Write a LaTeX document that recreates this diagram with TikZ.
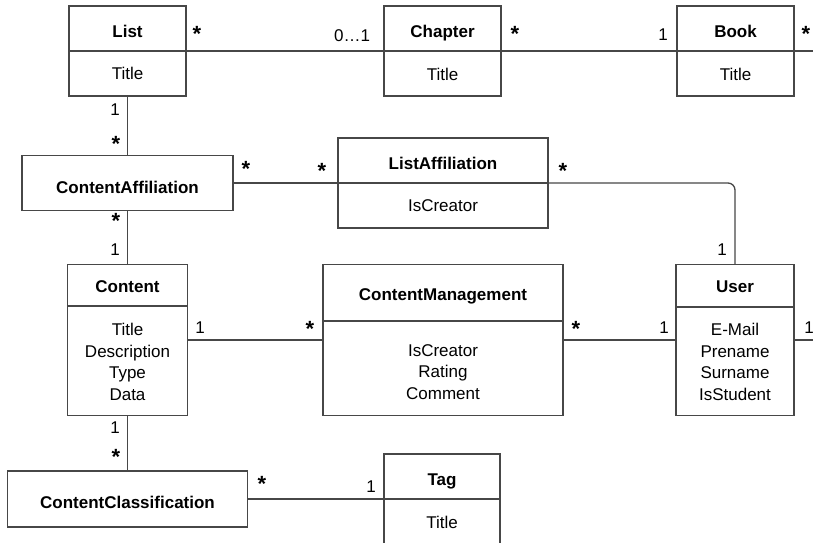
\documentclass[tikz,border=0pt]{standalone}
\usepackage{fontspec}
\setmainfont{Liberation Sans}
\definecolor{linec}{gray}{0.28}
\begin{document}
\begin{tikzpicture}[x=1pt,y=-1pt,
  box/.style={draw=linec, line width=1.3pt, inner sep=0pt},
  conn/.style={draw=linec, line width=1.3pt},
  ttl/.style={font=\bfseries\fontsize{17}{20}\selectfont, anchor=base, inner sep=0pt},
  attr/.style={font=\fontsize{17}{20}\selectfont, anchor=base, inner sep=0pt},
  mult/.style={font=\fontsize{17}{20}\selectfont, anchor=base, inner sep=0pt},
  mstar/.style={font=\bfseries\fontsize{22}{24}\selectfont, anchor=base, inner sep=0pt, yshift=-9pt}]
\useasboundingbox (0,0) rectangle (813,542);
\clip (0,0) rectangle (813,542);

% class boxes
\node[box, minimum width=117pt, minimum height=90pt] (list) at (127.5,51) {};
\node[box, minimum width=117pt, minimum height=90pt] (chapter) at (442.5,51) {};
\node[box, minimum width=117pt, minimum height=90pt] (book) at (735.5,51) {};
\node[box, minimum width=211pt, minimum height=55pt] (ca) at (127.5,183) {};
\node[box, minimum width=210pt, minimum height=90pt] (listaff) at (443,183) {};
\node[box, minimum width=120pt, minimum height=151pt] (content) at (127.5,340) {};
\node[box, minimum width=240pt, minimum height=151pt] (cm) at (443,340) {};
\node[box, minimum width=118pt, minimum height=151pt] (user) at (735,340) {};
\node[box, minimum width=240pt, minimum height=56pt] (cc) at (127.5,499) {};
\node[box, minimum width=116pt, minimum height=90pt] (tag) at (442,499) {};

% dividers
\draw[conn] (list.west) -- (list.east);
\draw[conn] (chapter.west) -- (chapter.east);
\draw[conn] (book.west) -- (book.east);
\draw[conn] (listaff.west) -- (listaff.east);
\draw[conn] (content.west |- 0,306) -- (content.east |- 0,306);
\draw[conn] (cm.west |- 0,321) -- (cm.east |- 0,321);
\draw[conn] (user.west |- 0,307) -- (user.east |- 0,307);
\draw[conn] (tag.west) -- (tag.east);

% titles and attributes
\node[ttl] (listT) at (127.5,37) {List};
\node[attr] (listA) at (127.5,79) {Title};
\node[ttl] (chapterT) at (442.5,37) {Chapter};
\node[attr] (chapterA) at (442.5,80) {Title};
\node[ttl] (bookT) at (735.5,37) {Book};
\node[attr] (bookA) at (735.5,80) {Title};
\node[ttl] (caT) at (127.5,193) {ContentAffiliation};
\node[ttl] (listaffT) at (443,169) {ListAffiliation};
\node[attr] (listaffA) at (443,211) {IsCreator};
\node[ttl] (contentT) at (127.5,292) {Content};
\node[attr] (contentA1) at (127.5,335) {Title};
\node[attr] (contentA2) at (127.5,357) {Description};
\node[attr] (contentA3) at (127.5,378) {Type};
\node[attr] (contentA4) at (127.5,400) {Data};
\node[ttl] (cmT) at (443,300) {ContentManagement};
\node[attr] (cmA1) at (443,356) {IsCreator};
\node[attr] (cmA2) at (443,377) {Rating};
\node[attr] (cmA3) at (443,399) {Comment};
\node[ttl] (userT) at (735,292) {User};
\node[attr] (userA1) at (735,335) {E-Mail};
\node[attr] (userA2) at (735,357) {Prename};
\node[attr] (userA3) at (735,378) {Surname};
\node[attr] (userA4) at (735,400) {IsStudent};
\node[ttl] (ccT) at (127.5,508) {ContentClassification};
\node[ttl] (tagT) at (442,485) {Tag};
\node[attr] (tagA) at (442,528) {Title};

% free ends
\coordinate (bookout) at (813,51);
\coordinate (userout) at (813,340);

% connectors
\draw[conn] (list) -- (chapter);
\draw[conn] (chapter) -- (book);
\draw[conn] (book) -- (bookout);
\draw[conn] (list) -- (ca);
\draw[conn] (ca) -- (listaff);
\draw[conn, rounded corners=7pt] (listaff) -| (user);
\draw[conn] (ca) -- (content);
\draw[conn] (content) -- (cm);
\draw[conn] (cm) -- (user);
\draw[conn] (user) -- (userout);
\draw[conn] (content) -- (cc);
\draw[conn] (cc) -- (tag);

% multiplicities
\node[mstar] (m1) at (197,32) {*};
\node[mult] (m2) at (352,41) {0…1};
\node[mstar] (m3) at (515,32) {*};
\node[mult] (m4) at (663,40) {1};
\node[mstar] (m5) at (806,32) {*};
\node[mult] (m6) at (115,115) {1};
\node[mstar] (m7) at (116,142) {*};
\node[mstar] (m8) at (246,167) {*};
\node[mstar] (m9) at (322,169) {*};
\node[mstar] (m10) at (563,169) {*};
\node[mult] (m11) at (722,255) {1};
\node[mstar] (m12) at (116,219) {*};
\node[mult] (m13) at (115,255) {1};
\node[mult] (m14) at (200,333) {1};
\node[mstar] (m15) at (310,327) {*};
\node[mstar] (m16) at (576,327) {*};
\node[mult] (m17) at (664,333) {1};
\node[mult] (m18) at (809,333) {1};
\node[mult] (m19) at (115,433) {1};
\node[mstar] (m20) at (116,455) {*};
\node[mstar] (m21) at (262,482) {*};
\node[mult] (m22) at (371,492) {1};
\end{tikzpicture}
\end{document}
